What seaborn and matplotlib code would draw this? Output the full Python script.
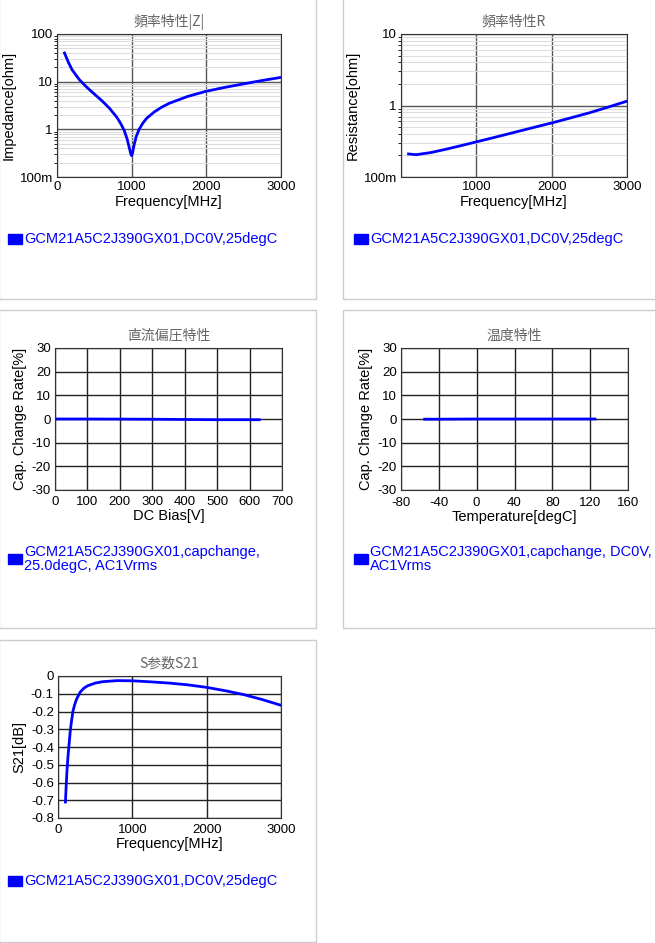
import matplotlib
matplotlib.use("Agg")
import matplotlib.pyplot as plt
import seaborn as sns
import pandas as pd
from matplotlib.patches import Rectangle
from matplotlib.ticker import NullFormatter

CJK = ["Noto Sans CJK JP", "Noto Sans CJK SC", "Noto Sans CJK TC", "Liberation Sans"]
plt.rcParams["font.family"] = ["Liberation Sans", "DejaVu Sans"]
plt.rcParams["axes.unicode_minus"] = False

z_freq = [100, 150, 200, 250, 300, 400, 500, 600, 700, 800, 850, 900, 940, 970, 990, 1000, 1010, 1030, 1060, 1100, 1150, 1200, 1300, 1400, 1500, 1750, 2000, 2250, 2500, 2750, 3000]
z_val = [40, 26, 18, 14, 11, 7.6, 5.5, 4.0, 2.8, 1.8, 1.35, 0.95, 0.62, 0.4, 0.3, 0.28, 0.31, 0.45, 0.7, 1.0, 1.35, 1.7, 2.3, 2.9, 3.5, 4.9, 6.3, 7.6, 9.0, 10.6, 12.3]
r_freq = [100, 200, 400, 600, 800, 1000, 1250, 1500, 1750, 2000, 2250, 2500, 2750, 3000]
r_val = [0.21, 0.205, 0.22, 0.245, 0.275, 0.31, 0.36, 0.42, 0.49, 0.57, 0.67, 0.79, 0.95, 1.15]
dc_v = [0, 100, 200, 300, 400, 500, 630]
dc_val = [0.0, 0.0, -0.05, -0.1, -0.2, -0.3, -0.3]
t_deg = [-55, -25, 0, 25, 50, 75, 100, 125]
t_val = [-0.1, -0.05, 0.0, 0.0, 0.0, 0.0, 0.0, 0.0]
s_freq = [100, 110, 120, 135, 150, 165, 180, 200, 225, 250, 300, 350, 400, 500, 600, 800, 1000, 1250, 1500, 1750, 2000, 2250, 2500, 2750, 3000]
s_val = [-0.71, -0.62, -0.54, -0.45, -0.38, -0.31, -0.26, -0.2, -0.16, -0.13, -0.09, -0.068, -0.055, -0.04, -0.032, -0.026, -0.027, -0.033, -0.04, -0.05, -0.064, -0.083, -0.105, -0.133, -0.165]

W, H = 655, 943
fig = plt.figure(figsize=(W/100, H/100), dpi=100)

def box(x0, y0, x1, y1):
    fig.patches.append(Rectangle((x0/W, 1-y1/H), (x1-x0)/W, (y1-y0)/H, transform=fig.transFigure,
                                 fill=False, edgecolor="#cccccc", lw=1))

def axes(x0, y0, x1, y1):
    return fig.add_axes([x0/W, 1-y1/H, (x1-x0)/W, (y1-y0)/H])

def style(ax, title, xlabel, ylabel):
    ax.set_title(title, color="#666666", fontsize=10, pad=6, fontfamily=CJK)
    ax.set_xlabel(xlabel, fontsize=10.5, labelpad=1)
    ax.set_ylabel(ylabel, fontsize=10.5, labelpad=3)
    ax.tick_params(labelsize=9.5, length=0, pad=3)
    for s in ax.spines.values():
        s.set_color("#333333")
    ax.set_axisbelow(True)

def legend(x, y, text):
    fig.patches.append(Rectangle((x/W, 1-(y+5)/H), 14/W, 10/H, transform=fig.transFigure, color="#0000ff"))
    fig.text((x+16)/W, 1-y/H, text, color="#0000ff", fontsize=10.5, va="center", linespacing=1.0)

box(-1, -1, 316, 299); box(343, -1, 656, 299); box(-1, 310, 316, 628); box(343, 310, 656, 628); box(-1, 640, 316, 942)

ax = axes(57, 34, 281, 177)
sns.lineplot(x=z_freq, y=z_val, ax=ax, color="#0000ff", lw=2)
ax.set_yscale("log"); ax.set_ylim(0.1, 100); ax.set_xlim(0, 3000)
ax.set_xticks([0, 1000, 2000, 3000]); ax.set_yticks([0.1, 1, 10, 100]); ax.set_yticklabels(["100m", "1", "10", "100"])
ax.yaxis.set_minor_formatter(NullFormatter())
ax.grid(True, which="major", color="#555555", lw=1)
ax.grid(True, which="minor", axis="y", color="#dddddd", lw=0.8)
style(ax, "頻率特性|Z|", "Frequency[MHz]", "Impedance[ohm]")
legend(8, 239, "GCM21A5C2J390GX01,DC0V,25degC")

ax = axes(401, 34, 627, 177)
sns.lineplot(x=r_freq, y=r_val, ax=ax, color="#0000ff", lw=2)
ax.set_yscale("log"); ax.set_ylim(0.1, 10); ax.set_xlim(0, 3000)
ax.set_xticks([0, 1000, 2000, 3000]); ax.set_xticklabels(["", "1000", "2000", "3000"])
ax.set_yticks([0.1, 1, 10]); ax.set_yticklabels(["100m", "1", "10"])
ax.yaxis.set_minor_formatter(NullFormatter())
ax.grid(True, which="major", color="#555555", lw=1)
ax.grid(True, which="minor", axis="y", color="#dddddd", lw=0.8)
style(ax, "頻率特性R", "Frequency[MHz]", "Resistance[ohm]")
legend(354, 239, "GCM21A5C2J390GX01,DC0V,25degC")

ax = axes(55, 348, 282, 490)
sns.lineplot(x=dc_v, y=dc_val, ax=ax, color="#0000ff", lw=2)
ax.set_xlim(0, 700); ax.set_ylim(-30, 30)
ax.set_xticks(range(0, 701, 100)); ax.set_yticks(range(-30, 31, 10))
ax.grid(True, color="#222222", lw=1)
style(ax, "直流偏圧特性", "DC Bias[V]", "Cap. Change Rate[%]")
ax.tick_params(axis="x", pad=4)
legend(8, 559, "GCM21A5C2J390GX01,capchange,\n25.0degC, AC1Vrms")

ax = axes(401, 348, 628, 490)
sns.lineplot(x=t_deg, y=t_val, ax=ax, color="#0000ff", lw=2)
ax.set_xlim(-80, 160); ax.set_ylim(-30, 30)
ax.set_xticks(range(-80, 161, 40)); ax.set_yticks(range(-30, 31, 10))
ax.grid(True, color="#222222", lw=1)
style(ax, "温度特性", "Temperature[degC]", "Cap. Change Rate[%]")
ax.tick_params(axis="x", pad=5)
legend(354, 559, "GCM21A5C2J390GX01,capchange, DC0V,\nAC1Vrms")

ax = axes(58, 676, 281, 818)
sns.lineplot(x=s_freq, y=s_val, ax=ax, color="#0000ff", lw=2)
ax.set_xlim(0, 3000); ax.set_ylim(-0.8, 0)
ax.set_xticks([0, 1000, 2000, 3000])
yt = [round(-0.1*i, 1) for i in range(9)]
ax.set_yticks(yt); ax.set_yticklabels(["0"] + [f"{v:.1f}" for v in yt[1:]])
ax.grid(True, color="#222222", lw=1)
style(ax, "S参数S21", "Frequency[MHz]", "S21[dB]")
ax.tick_params(axis="x", pad=4)
legend(8, 881, "GCM21A5C2J390GX01,DC0V,25degC")

fig.savefig("out.png", dpi=100)
